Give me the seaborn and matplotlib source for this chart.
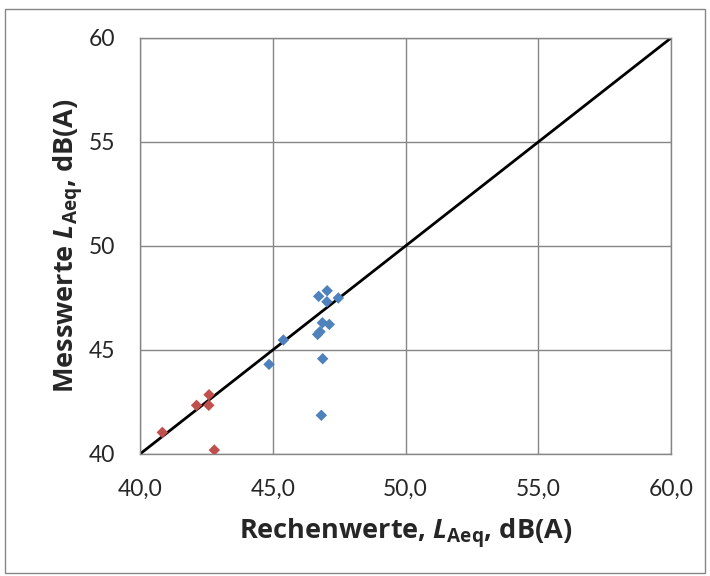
import matplotlib
matplotlib.use("Agg")
import matplotlib.pyplot as plt
import seaborn as sns
import pandas as pd
from matplotlib.patches import Rectangle

# Data
blue_x = [47.05, 46.73, 47.04, 47.47, 46.87, 47.13, 46.78, 46.69, 45.40, 44.86, 46.88, 46.83]
blue_y = [47.85, 47.58, 47.32, 47.50, 46.31, 46.23, 45.88, 45.75, 45.48, 44.31, 44.58, 41.86]
red_x = [42.60, 42.13, 42.59, 40.84, 42.80]
red_y = [42.85, 42.34, 42.34, 41.04, 40.19]
line_x = [40, 60]
line_y = [40, 60]
x_ticks = [40, 45, 50, 55, 60]
x_tick_labels = ["40,0", "45,0", "50,0", "55,0", "60,0"]
y_ticks = [40, 45, 50, 55, 60]
y_tick_labels = ["40", "45", "50", "55", "60"]

df = pd.DataFrame({
    "x": blue_x + red_x,
    "y": blue_y + red_y,
    "group": ["blue"] * len(blue_x) + ["red"] * len(red_x),
})

sns.set_style("white")
plt.rcParams['font.family'] = ['Lato', 'DejaVu Sans']
plt.rcParams['mathtext.fontset'] = 'custom'
plt.rcParams['mathtext.rm'] = 'Open Sans:bold'
plt.rcParams['mathtext.bf'] = 'Open Sans:bold'
plt.rcParams['mathtext.it'] = 'Open Sans:italic:bold'

fig = plt.figure(figsize=(7.1, 5.76), dpi=100)
ax = fig.add_axes([140 / 710, 1 - 454 / 576, (671 - 140) / 710, (454 - 38) / 576])

grid_c = "#868686"
ax.plot(line_x, line_y, color="black", lw=2, zorder=2)
sns.scatterplot(data=df, x="x", y="y", hue="group",
                palette={"blue": "#4F81BD", "red": "#C0504D"},
                marker="D", s=34, linewidth=0, legend=False, ax=ax, zorder=3)

ax.set_xlim(40, 60)
ax.set_ylim(40, 60)
ax.set_xticks(x_ticks)
ax.set_xticklabels(x_tick_labels)
ax.set_yticks(y_ticks)
ax.set_yticklabels(y_tick_labels)
ax.grid(True, color=grid_c, lw=1)
ax.set_axisbelow(True)
for s in ax.spines.values():
    s.set_color(grid_c)
    s.set_linewidth(1)
ax.tick_params(axis="both", length=6, width=1, color=grid_c, labelsize=16.5, direction="out")
ax.tick_params(axis="x", pad=12)
ax.tick_params(axis="y", pad=12)

ax.set_xlabel(r"Rechenwerte, $\mathit{L}_{\mathbf{Aeq}}$, dB(A)", fontsize=19.5,
              fontweight="bold", family="Open Sans", labelpad=12)
ax.set_ylabel(r"Messwerte $\mathit{L}_{\mathbf{Aeq}}$, dB(A)", fontsize=19.5,
              fontweight="bold", family="Open Sans", labelpad=2)

fig.patches.append(Rectangle((5 / 710, 0.005), 1 - 10 / 710, 1 - 9 / 576 - 0.005,
                             transform=fig.transFigure, fill=False, edgecolor=grid_c, lw=1))

fig.savefig("out.png", dpi=100)
